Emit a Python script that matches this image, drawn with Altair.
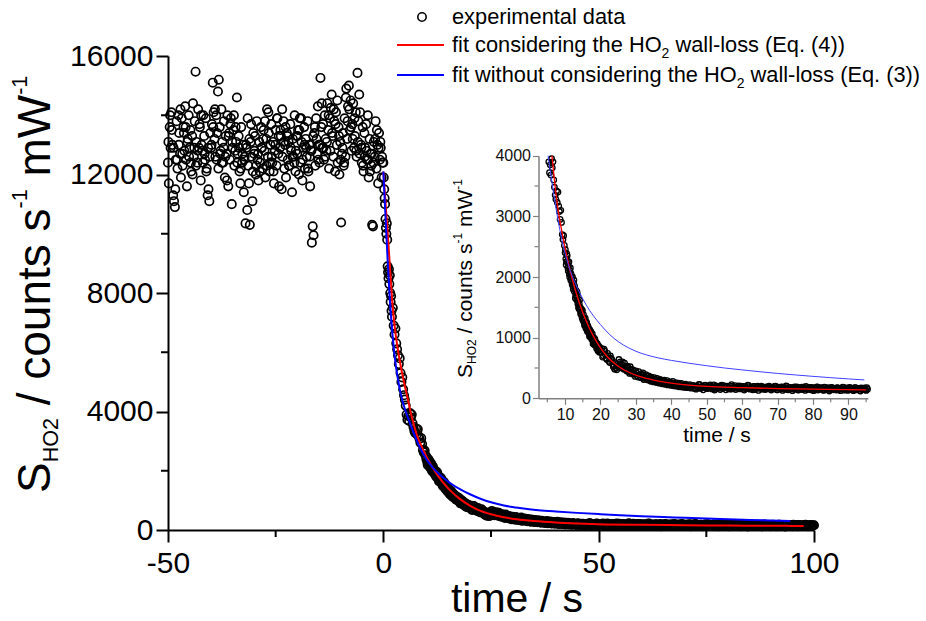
import altair as alt
import pandas as pd

FONT = "Liberation Sans"
OX, OY = 168, 56          # page position of the main plot origin
W, H = 646, 474           # main plot size
NB = "\u00a0"

# ---------------- data ----------------
pre_t = [
 -50.0,-49.8,-49.6,-49.4,-49.2,-49.0,-48.8,-48.6,-48.4,-48.2,
 -48.0,-47.8,-47.6,-47.4,-47.2,-47.0,-46.8,-46.6,-46.4,-46.2,
 -46.0,-45.8,-45.6,-45.4,-45.2,-45.0,-44.8,-44.6,-44.4,-44.2,
 -44.0,-43.8,-43.6,-43.4,-43.2,-43.0,-42.8,-42.6,-42.4,-42.2,
 -42.0,-41.8,-41.6,-41.4,-41.2,-41.0,-40.8,-40.6,-40.4,-40.2,
 -40.0,-39.8,-39.6,-39.4,-39.2,-39.0,-38.8,-38.6,-38.4,-38.2,
 -38.0,-37.8,-37.6,-37.4,-37.2,-37.0,-36.8,-36.6,-36.4,-36.2,
 -36.0,-35.8,-35.6,-35.4,-35.2,-35.0,-34.8,-34.6,-34.4,-34.2,
 -34.0,-33.8,-33.6,-33.4,-33.2,-33.0,-32.8,-32.6,-32.4,-32.2,
 -32.0,-31.8,-31.6,-31.4,-31.2,-31.0,-30.8,-30.6,-30.4,-30.2,
 -30.0,-29.8,-29.6,-29.4,-29.2,-29.0,-28.8,-28.6,-28.4,-28.2,
 -28.0,-27.8,-27.6,-27.4,-27.2,-27.0,-26.8,-26.6,-26.4,-26.2,
 -26.0,-25.8,-25.6,-25.4,-25.2,-25.0,-24.8,-24.6,-24.4,-24.2,
 -24.0,-23.8,-23.6,-23.4,-23.2,-23.0,-22.8,-22.6,-22.4,-22.2,
 -22.0,-21.8,-21.6,-21.4,-21.2,-21.0,-20.8,-20.6,-20.4,-20.2,
 -20.0,-19.8,-19.6,-19.4,-19.2,-19.0,-18.8,-18.6,-18.4,-18.2,
 -18.0,-17.8,-17.6,-17.4,-17.2,-17.0,-16.8,-16.6,-16.4,-16.2,
 -16.0,-15.8,-15.6,-15.4,-15.2,-15.0,-14.8,-14.6,-14.4,-14.2,
 -14.0,-13.8,-13.6,-13.4,-13.2,-13.0,-12.8,-12.6,-12.4,-12.2,
 -12.0,-11.8,-11.6,-11.4,-11.2,-11.0,-10.8,-10.6,-10.4,-10.2,
 -10.0,-9.8,-9.6,-9.4,-9.2,-9.0,-8.8,-8.6,-8.4,-8.2,
 -8.0,-7.8,-7.6,-7.4,-7.2,-7.0,-6.8,-6.6,-6.4,-6.2,
 -6.0,-5.8,-5.6,-5.4,-5.2,-5.0,-4.8,-4.6,-4.4,-4.2,
 -4.0,-3.8,-3.6,-3.4,-3.2,-3.0,-2.8,-2.6,-2.4,-2.2,
 -2.0,-1.8,-1.6,-1.4,-1.2,-1.0,-0.8,-0.6,-0.4,-0.2]
pre_v = [
 12400,11700,13600,12900,14100,13000,11300,11100,10900,12500,
 13800,12200,14000,13400,12700,11900,13900,12300,13600,12800,
 14300,12500,11600,13200,14000,12900,13500,12100,13300,14400,
 12600,13800,15470,13100,12400,14200,12900,13600,11800,13000,
 12800,14000,13300,12500,13900,12200,11300,11500,11100,13400,
 12900,13700,15100,14100,13200,12600,14000,13400,14800,15200,
 13600,12800,14200,13100,12400,13800,11900,13300,12700,14000,
 11600,13400,12500,13900,11000,12900,13500,12300,12800,13100,
 14600,12700,13300,12100,11700,13600,12400,13000,11400,12600,
 10350,12900,10800,12300,11700,10300,13100,12600,11100,13400,
 12700,13300,12000,13800,12500,11800,13100,12400,13600,12900,
 12200,13500,12800,11900,13200,14200,12600,13400,12100,13000,
 13700,12400,13100,11700,12800,13500,12300,13900,12700,11600,
 12900,13300,11500,12600,13800,12200,13000,11900,13400,12500,
 13100,12300,13700,12800,11400,13200,12600,14000,12100,13300,
 12700,13500,12000,13900,12400,13100,11800,12900,13600,12200,
 13200,12600,13800,12100,13000,11600,12800,9700,10250,9950,
 13400,12300,13900,12700,14300,13000,12400,15260,13600,12900,
 13700,12500,14000,13200,12800,14400,13500,12200,13900,14250,
 14700,13300,12600,13800,12100,14100,13000,12400,13600,12000,
 13100,10380,12700,13400,12300,13900,12600,14900,13200,14300,
 15000,13500,14500,12800,13700,14400,12900,13300,14100,12600,
 15430,13800,14700,14100,13000,12400,13600,12100,13400,12900,
 13700,12500,14000,11900,13200,12700,12300,10300,10250,13100,
 12600,13800,12200,13000,11700,13400,12500,12900,11900,12400]

pre2_t = [
 -49.9,-49.5,-49.1,-48.7,-48.3,-47.9,-47.5,-47.1,-46.7,-46.3,
 -45.9,-45.5,-45.1,-44.7,-44.3,-43.9,-43.5,-43.1,-42.7,-42.3,
 -41.9,-41.5,-41.1,-40.7,-40.3,-39.9,-39.5,-39.1,-38.7,-38.3,
 -37.9,-37.5,-37.1,-36.7,-36.3,-35.9,-35.5,-35.1,-34.7,-34.3,
 -33.9,-33.5,-33.1,-32.7,-32.3,-31.9,-31.5,-31.1,-30.7,-30.3,
 -29.9,-29.5,-29.1,-28.7,-28.3,-27.9,-27.5,-27.1,-26.7,-26.3,
 -25.9,-25.5,-25.1,-24.7,-24.3,-23.9,-23.5,-23.1,-22.7,-22.3,
 -21.9,-21.5,-21.1,-20.7,-20.3,-19.9,-19.5,-19.1,-18.7,-18.3,
 -17.9,-17.5,-17.1,-16.7,-16.3,-15.9,-15.5,-15.1,-14.7,-14.3,
 -13.9,-13.5,-13.1,-12.7,-12.3,-11.9,-11.5,-11.1,-10.7,-10.3,
 -9.9,-9.5,-9.1,-8.7,-8.3,-7.9,-7.5,-7.1,-6.7,-6.3,
 -5.9,-5.5,-5.1,-4.7,-4.3,-3.9,-3.5,-3.1,-2.7,-2.3,
 -1.9,-1.5,-1.1,-0.7,-0.3]
pre2_v = [
 13100,14000,13500,12900,11500,12500,13000,14200,12700,13400,
 13600,13100,12600,12400,12000,12900,12300,12800,13700,14000,
 12400,12700,12100,12900,12600,13000,13600,14200,12500,12200,
 12700,12400,12900,12600,11800,13300,13700,13100,14000,13600,
 12400,12900,12200,12700,12500,13000,13900,13200,13700,12100,
 12800,12300,12700,12100,12900,13200,13800,12300,14100,12400,
 12600,12100,13000,13900,13300,13500,14200,13100,13600,13300,
 12300,12900,12600,12400,12800,13300,13500,13900,12500,13000,
 12900,12200,12600,12800,13300,13600,13200,12500,13000,14400,
 12900,12600,13100,14000,12800,13400,14200,13700,14500,13300,
 12500,12900,12400,14600,13800,14200,13600,13200,13900,12800,
 13100,12700,12900,12300,12600,12800,12500,12100,12700,12400,
 13200,13500,12900,13100,12600]

post_t = [
 0.0,0.1,0.2,0.3,0.4,0.5,0.6,0.7,0.8,0.9,1.0,1.1,1.2,1.3,1.4,1.5,1.6,1.7,1.8,1.9,2.0,
 2.2,2.4,2.6,2.8,3.0,3.2,3.4,3.6,3.8,4.0,
 4.2,4.4,4.6,4.8,5.0,5.2,5.4,5.6,5.8,6.0,
 6.2,6.4,6.6,6.8,7.0,7.2,7.4,7.6,7.8,8.0,
 8.2,8.4,8.6,8.8,9.0,9.2,9.4,9.6,9.8,10.0,
 10.2,10.4,10.6,10.8,11.0,11.2,11.4,11.6,11.8,12.0,
 12.2,12.4,12.6,12.8,13.0,13.2,13.4,13.6,13.8,14.0,
 14.2,14.4,14.6,14.8,15.0,15.2,15.4,15.6,15.8,16.0,
 16.2,16.4,16.6,16.8,17.0,17.2,17.4,17.6,17.8,18.0,
 18.2,18.4,18.6,18.8,19.0,19.2,19.4,19.6,19.8,20.0,
 20.4,20.8,21.2,21.6,22.0,22.4,22.8,23.2,23.6,24.0,
 24.4,24.8,25.2,25.6,26.0,26.4,26.8,27.2,27.6,28.0,
 28.4,28.8,29.2,29.6,30.0,30.4,30.8,31.2,31.6,32.0,
 32.4,32.8,33.2,33.6,34.0,34.4,34.8,35.2,35.6,36.0,
 36.4,36.8,37.2,37.6,38.0,38.4,38.8,39.2,39.6,40.0,
 40.4,40.8,41.2,41.6,42.0,42.4,42.8,43.2,43.6,44.0,
 44.4,44.8,45.2,45.6,46.0,
 46.4,46.8,47.2,47.6,48.0,48.4,48.8,49.2,49.6,50.0,
 50.4,50.8,51.2,51.6,52.0,52.4,52.8,53.2,53.6,54.0,
 54.4,54.8,55.2,55.6,56.0,56.4,56.8,57.2,57.6,58.0,
 58.4,58.8,59.2,59.6,60.0,60.4,60.8,61.2,61.6,62.0,
 62.4,62.8,63.2,63.6,64.0,64.4,64.8,65.2,65.6,66.0,
 66.4,66.8,67.2,67.6,68.0,68.4,68.8,69.2,69.6,70.0,
 70.4,70.8,71.2,71.6,72.0,72.4,72.8,73.2,73.6,74.0,
 74.4,74.8,75.2,75.6,76.0,76.4,76.8,77.2,77.6,78.0,
 78.4,78.8,79.2,79.6,80.0,80.4,80.8,81.2,81.6,82.0,
 82.4,82.8,83.2,83.6,84.0,84.4,84.8,85.2,85.6,86.0,
 86.4,86.8,87.2,87.6,88.0,88.4,88.8,89.2,89.6,90.0,
 90.4,90.8,91.2,91.6,92.0,92.4,92.8,93.2,93.6,94.0,
 94.4,94.8,95.2,95.6,96.0,96.4,96.8,97.2,97.6,98.0,
 98.4,98.8,99.2,99.6,100.0]
post_v = [
 12400,11900,11500,11200,11000,10500,10200,10000,10350,9800,8900,8700,8500,8800,8300,8600,8000,7700,7900,7400,7200,
 7500,6900,6600,6800,6300,6100,5900,5600,5800,5300,
 5000,5150,4750,4550,4400,4200,3900,3720,3850,3680,
 3950,3800,3900,3600,3480,3350,3280,3420,3230,3400,
 3170,3080,2950,3100,2900,2700,2620,2680,2520,2400,
 2300,2250,2350,2150,2180,2050,2100,1950,1990,1880,
 1850,1900,1760,1800,1700,1680,1750,1560,1500,1560,
 1450,1400,1470,1330,1300,1380,1250,1220,1270,1180,
 1150,1200,1100,1060,1130,1020,1040,970,1000,950,
 920,980,880,900,850,870,820,800,840,760,
 820,700,780,660,740,610,700,640,520,480,
 500,560,640,600,560,510,580,470,530,440,
 520,420,470,400,450,370,440,350,400,420,
 330,390,310,370,300,350,290,340,280,330,
 260,310,280,250,300,240,290,230,270,240,
 280,210,260,220,250,200,245,215,190,235,
 200,180,225,195,210,
 210,170,200,185,225,165,195,180,215,160,190,205,175,185,220,150,195,170,200,185,165,210,180,190,160,
 175,200,155,185,210,170,190,165,200,180,150,195,175,215,160,185,170,195,145,180,200,165,175,190,155,
 185,160,175,200,150,180,165,195,170,140,185,160,190,155,175,205,145,170,180,160,150,190,165,175,140,
 170,185,150,165,195,145,175,160,180,135,170,155,190,150,165,175,140,185,160,150,170,145,180,155,165,
 150,175,140,165,155,185,135,160,170,145,180,150,160,140,175,155,165,130,170,150,160,145,175,140,155,
 165,140,160,150,175,135,155,170,145,160]

post2_t = [
 10.1,10.3,10.5,10.7,10.9,11.1,11.3,11.5,11.7,11.9,
 12.1,12.3,12.5,12.7,12.9,13.1,13.3,13.5,13.7,13.9,
 14.1,14.3,14.5,14.7,14.9,15.1,15.3,15.5,15.7,15.9,
 16.1,16.3,16.5,16.7,16.9,17.1,17.3,17.5,17.7,17.9,
 18.1,18.3,18.5,18.7,18.9,19.1,19.3,19.5,19.7,19.9,
 20.2,20.6,21.0,21.4,21.8,22.2,22.6,23.0,23.4,23.8,
 24.2,24.6,25.0,25.4,25.8,26.2,26.6,27.0,27.4,27.8,
 28.2,28.6,29.0,29.4,29.8,30.2,30.6,31.0,31.4,31.8,
 32.2,32.6,33.0,33.4,33.8,34.2,34.6,35.0,35.4,35.8,
 36.2,36.6,37.0,37.4,37.8,38.2,38.6,39.0,39.4,39.8,
 40.2,40.6,41.0,41.4,41.8,42.2,42.6,43.0,43.4,43.8,
 44.2,44.6,45.0,45.4,45.8,46.2,
 46.6,47.0,47.4,47.8,48.2,48.6,49.0,49.4,49.8,50.2,
 50.6,51.0,51.4,51.8,52.2,52.6,53.0,53.4,53.8,54.2,
 54.6,55.0,55.4,55.8,56.2,56.6,57.0,57.4,57.8,58.2,
 58.6,59.0,59.4,59.8,60.2,60.6,61.0,61.4,61.8,62.2,
 62.6,63.0,63.4,63.8,64.2,64.6,65.0,65.4,65.8,66.2,
 66.6,67.0,67.4,67.8,68.2,68.6,69.0,69.4,69.8,70.2,
 70.6,71.0,71.4,71.8,72.2,72.6,73.0,73.4,73.8,74.2,
 74.6,75.0,75.4,75.8,76.2,76.6,77.0,77.4,77.8,78.2,
 78.6,79.0,79.4,79.8,80.2,80.6,81.0,81.4,81.8,82.2,
 82.6,83.0,83.4,83.8,84.2,84.6,85.0,85.4,85.8,86.2,
 86.6,87.0,87.4,87.8,88.2,88.6,89.0,89.4,89.8,90.2,
 90.6,91.0,91.4,91.8,92.2,92.6,93.0,93.4,93.8,94.2,
 94.6,95.0,95.4,95.8,96.2,96.6,97.0,97.4,97.8,98.2,
 98.6,99.0,99.4,99.8]
post2_v = [
 2450,2200,2380,2260,2100,2250,2000,2150,2050,1920,
 2000,1800,1950,1850,1650,1780,1620,1700,1600,1480,
 1620,1500,1380,1420,1450,1280,1330,1200,1320,1150,
 1250,1100,1180,1150,1020,1080,1100,980,1060,900,
 1000,880,950,920,820,900,780,860,760,810,
 760,680,810,720,640,700,590,660,600,540,
 590,470,520,560,500,600,480,520,450,500,
 410,480,400,440,360,420,350,390,340,380,
 310,350,370,300,340,280,320,270,310,260,
 300,250,290,240,280,230,265,220,255,215,
 250,205,240,200,235,190,225,185,220,180,
 215,175,210,170,205,165,
 200,150,185,230,165,195,140,210,175,160,
 190,220,155,180,135,205,170,195,145,215,
 165,185,140,200,175,150,225,160,190,145,
 180,205,155,170,195,135,185,160,210,150,
 175,140,195,165,185,130,170,200,150,180,
 145,190,160,175,135,185,155,200,140,170,
 160,185,130,175,150,195,140,165,180,125,
 170,150,190,135,160,175,145,185,130,165,
 155,180,140,170,125,160,185,135,175,150,
 165,130,180,145,170,120,160,175,140,155,
 135,170,150,125,165,180,140,155,130,170,
 145,160,125,175,140,150,165,120,155,145,
 170,130,150,165,125,160,140,155,135,165,
 130,150,145,160]

red_t = [0,0.5,1,1.5,2,2.5,3,3.5,4,4.5,5,5.5,6,6.3,7,7.6,8,9,10,11,12,13,14,15,16,17,18,
         20,22,25,28,31,35,40,45,50,60,70,80,90,95,97.6]
red_v = [12100,11050,10050,8950,7850,7050,6450,5980,5560,5190,4850,4530,4200,4000,3600,3290,
         3120,2780,2480,2210,1975,1765,1580,1415,1270,1140,1025,830,680,530,430,360,300,250,
         218,195,175,160,150,142,139,137]
blue_t = [0,0.5,1,1.5,2,2.5,3,3.5,4,4.5,5.2,6.2,7.2,8,9,10,11,12,13,14,15,16,18,20,22.7,25,
          28,30,33,36,40,45,50,55,60,65,70,75,80,85,90,94.5]
blue_v = [12100,10600,9100,7800,6800,6050,5450,5000,4620,4330,4000,3600,3220,2940,2640,2390,
          2190,2020,1880,1755,1640,1535,1360,1215,1045,935,830,775,715,670,625,578,537,500,
          468,438,410,385,362,340,320,303]

main_x_ticks = [-50, 0, 50, 100]
main_x_minor = [-25, 25, 75]
main_y_ticks = [0, 4000, 8000, 12000, 16000]
main_y_minor = [2000, 6000, 10000, 14000]
ins_x_ticks = [10, 20, 30, 40, 50, 60, 70, 80, 90]
ins_x_minor = [5, 15, 25, 35, 45, 55, 65, 75, 85, 95]
ins_y_ticks = [0, 1000, 2000, 3000, 4000]
ins_y_minor = [500, 1500, 2500, 3500]

assert len(pre_t) == len(pre_v) and len(post_t) == len(post_v)
assert len(pre2_t) == len(pre2_v) and len(post2_t) == len(post2_v)
assert len(red_t) == len(red_v) and len(blue_t) == len(blue_v)

df_pts = pd.DataFrame({"t": pre_t + pre2_t + post_t + post2_t,
                       "v": pre_v + pre2_v + post_v + post2_v})
df_red = pd.DataFrame({"t": red_t, "v": red_v})
df_blue = pd.DataFrame({"t": blue_t, "v": blue_v})

# ---------------- helpers for text layout ----------------
CW = {' ':278,NB:278,'(':333,')':333,'-':333,'.':278,'/':278,'E':667,'H':722,'O':778,'S':667,
      'W':944,'a':556,'c':500,'d':556,'e':556,'f':278,'g':556,'h':556,'i':222,'l':222,'m':833,
      'n':556,'o':556,'p':556,'q':556,'r':333,'s':500,'t':278,'u':556,'w':722,'x':500}
def tw(s, size):
    return sum(CW.get(c, 556) for c in s) / 1000.0 * size

one = pd.DataFrame({"k": [0]})

def txt(s, X, Y, size, angle=0, align="left", color="black"):
    return alt.Chart(one).mark_text(text=s, font=FONT, fontSize=size, angle=angle, align=align,
                                    baseline="alphabetic", color=color).encode(
        x=alt.value(X - OX), y=alt.value(Y - OY))

def _split(s):
    body = s.lstrip(" ")
    return len(s) - len(body), body.replace(" ", NB)

def hrun(pieces, X, Y):
    out, x = [], X
    for s, size, dy in pieces:
        nlead, body = _split(s)
        x += nlead * 0.278 * size
        out.append(txt(body, x, Y + dy, size))
        x += tw(body, size)
    return out

def vrun(pieces, X, Y):
    out, y = [], Y
    for s, size, dx in pieces:
        nlead, body = _split(s)
        y -= nlead * 0.278 * size
        out.append(txt(body, X + dx, y, size, angle=270))
        y -= tw(body, size)
    return out

LABEXPR = "datum.value < 0 ? '-' + abs(datum.value) : '' + datum.value"

# ---------------- main panel ----------------
xs_main = alt.Scale(domain=[-50, 100], nice=False, zero=False)
ys_main = alt.Scale(domain=[0, 16000], nice=False, zero=False)
axis_common = dict(title=None, grid=False, tickWidth=2, domainWidth=2, domainColor="black",
                   tickColor="black", labelColor="black", labelFont=FONT, labelFontSize=30,
                   tickSize=12, labelExpr=LABEXPR)

main_pts = alt.Chart(df_pts).mark_point(shape="circle", filled=False, color="black",
                                         size=70, strokeWidth=1.7, opacity=1).encode(
    x=alt.X("t:Q", scale=xs_main,
            axis=alt.Axis(values=main_x_ticks, orient="bottom", labelPadding=6,
                          labelFlush=False, **axis_common)),
    y=alt.Y("v:Q", scale=ys_main,
            axis=alt.Axis(values=main_y_ticks, orient="left", labelPadding=3, **axis_common)))

main_red = alt.Chart(df_red).mark_line(color="#ff0000", strokeWidth=2, interpolate="monotone").encode(
    x=alt.X("t:Q", scale=xs_main, axis=None), y=alt.Y("v:Q", scale=ys_main, axis=None))
main_blue = alt.Chart(df_blue).mark_line(color="#0000ff", strokeWidth=2, interpolate="monotone").encode(
    x=alt.X("t:Q", scale=xs_main, axis=None), y=alt.Y("v:Q", scale=ys_main, axis=None))

minor_x = alt.Chart(pd.DataFrame({"m": main_x_minor})).mark_rule(color="black", strokeWidth=2).encode(
    x=alt.X("m:Q", scale=xs_main, axis=None), y=alt.value(H), y2=alt.value(H + 7))
minor_y = alt.Chart(pd.DataFrame({"m": main_y_minor})).mark_rule(color="black", strokeWidth=2).encode(
    y=alt.Y("m:Q", scale=ys_main, axis=None), x=alt.value(0), x2=alt.value(-7))

# ---------------- inset panel ----------------
IX0, IX1 = 538.5, 867.9      # page x of inset t=2.5 and t=95.5
IY0, IY1 = 398.3, 155.7      # page y of inset 0 and 4000
xs_in = alt.Scale(domain=[2.5, 95.5], range=[IX0 - OX, IX1 - OX], nice=False, zero=False)
ys_in = alt.Scale(domain=[0, 4000], range=[IY0 - OY, IY1 - OY], nice=False, zero=False)
GRAY = "#808080"
in_axis = dict(title=None, grid=False, tickWidth=1.2, domainWidth=1.5, domainColor=GRAY,
               tickColor=GRAY, labelColor="#111111", labelFont=FONT, labelFontSize=16, tickSize=6,
               labelExpr=LABEXPR)
flt = "datum.t >= 2.5 && datum.t <= 95.5 && datum.v <= 4000"

in_pts = alt.Chart(df_pts).transform_filter(flt).mark_point(
    shape="circle", filled=False, color="black", size=30, strokeWidth=1.3, opacity=1).encode(
    x=alt.X("t:Q", scale=xs_in,
            axis=alt.Axis(values=ins_x_ticks, orient="bottom", offset=-(OY + H - IY0),
                          labelPadding=2, **in_axis)),
    y=alt.Y("v:Q", scale=ys_in,
            axis=alt.Axis(values=ins_y_ticks, orient="left", offset=-(IX0 - OX),
                          labelPadding=2, **in_axis)))
in_red = alt.Chart(df_red).transform_filter(flt).mark_line(
    color="#ff0000", strokeWidth=1.3, interpolate="monotone").encode(
    x=alt.X("t:Q", scale=xs_in, axis=None), y=alt.Y("v:Q", scale=ys_in, axis=None))
in_blue = alt.Chart(df_blue).transform_filter(flt).mark_line(
    color="#4040ff", strokeWidth=1, interpolate="monotone").encode(
    x=alt.X("t:Q", scale=xs_in, axis=None), y=alt.Y("v:Q", scale=ys_in, axis=None))
in_minor_x = alt.Chart(pd.DataFrame({"m": ins_x_minor})).mark_rule(color=GRAY, strokeWidth=1.2).encode(
    x=alt.X("m:Q", scale=xs_in, axis=None), y=alt.value(IY0 - OY), y2=alt.value(IY0 - OY + 4))
in_minor_y = alt.Chart(pd.DataFrame({"m": ins_y_minor})).mark_rule(color=GRAY, strokeWidth=1.2).encode(
    y=alt.Y("m:Q", scale=ys_in, axis=None), x=alt.value(IX0 - OX), x2=alt.value(IX0 - OX - 4))

# ---------------- titles ----------------
texts = []
texts += vrun([("S", 46, 0), ("HO2", 21.5, 8), (" / counts s", 46, 0), ("-1", 21.5, -23),
               (" mW", 46, 0), ("-1", 21.5, -23)], 50, 493)
texts.append(txt("time" + NB + "/" + NB + "s", 517, 612, 41, align="center"))
texts += vrun([("S", 21, 0), ("HO2", 12, 4), (" / counts s", 21, 0), ("-1", 12, -10),
               (" mW", 21, 0), ("-1", 12, -10)], 472, 378)
texts.append(txt("time" + NB + "/" + NB + "s", 717, 442, 21, align="center"))

# ---------------- legend ----------------
LF = 21.8
leg = [
    alt.Chart(one).mark_point(shape="circle", filled=False, color="black", size=70,
                              strokeWidth=1.6, opacity=1).encode(
        x=alt.value(422 - OX), y=alt.value(17 - OY)),
    alt.Chart(one).mark_rule(color="#ff0000", strokeWidth=2).encode(
        x=alt.value(397 - OX), x2=alt.value(444 - OX), y=alt.value(45 - OY)),
    alt.Chart(one).mark_rule(color="#0000ff", strokeWidth=2).encode(
        x=alt.value(397 - OX), x2=alt.value(444 - OX), y=alt.value(75 - OY)),
    txt("experimental" + NB + "data", 452, 24, LF),
]
leg += hrun([("fit considering the HO", LF, 0), ("2", 14, 6), (" wall-loss (Eq. (4))", LF, 0)], 452, 52)
leg += hrun([("fit without considering the HO", LF, 0), ("2", 14, 6),
             (" wall-loss (Eq. (3))", LF, 0)], 452, 82)

layers = [main_pts, main_red, main_blue, minor_x, minor_y,
          in_pts, in_red, in_blue, in_minor_x, in_minor_y] + texts + leg

chart = alt.layer(*layers).resolve_scale(x="independent", y="independent").resolve_axis(
    x="independent", y="independent").properties(
    width=W, height=H,
    autosize=alt.AutoSizeParams(type="none"),
    padding={"left": OX, "top": OY, "right": 926 - OX - W, "bottom": 621 - OY - H},
    background="white",
).configure_view(stroke=None).configure_axis(grid=False)

chart.save("out.html", embed_options={"renderer": "svg", "actions": False})
